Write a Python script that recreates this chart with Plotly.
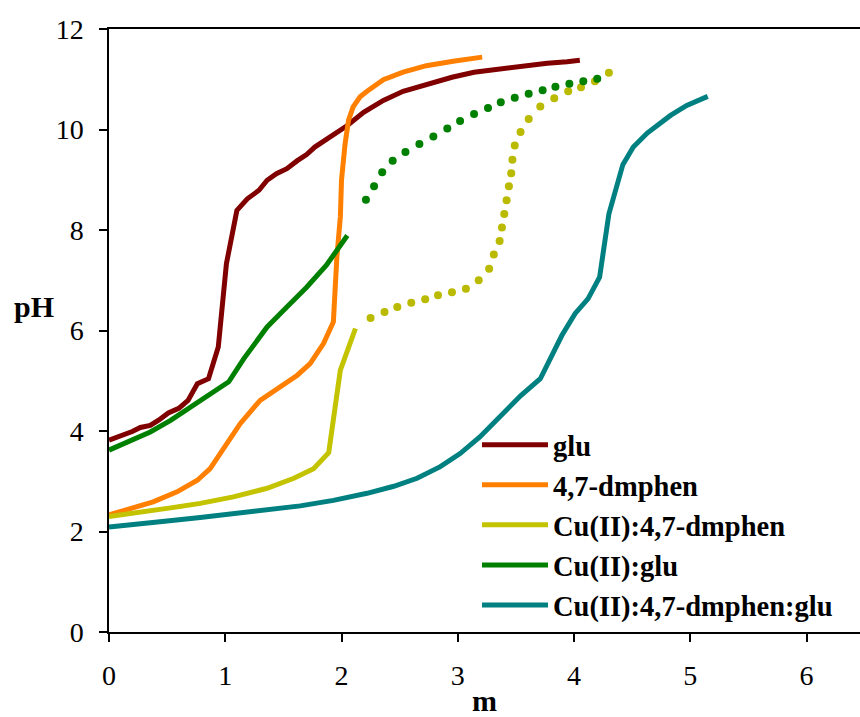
import plotly.graph_objects as go

# ---- data ----
glu_x = [0, 0.1, 0.2, 0.27, 0.355, 0.43, 0.51, 0.60, 0.68, 0.76, 0.856, 0.94, 1.01, 1.10, 1.19, 1.29,
         1.36, 1.44, 1.53, 1.62, 1.70, 1.77, 1.86, 1.96, 2.05, 2.19, 2.36, 2.53, 2.76, 2.95, 3.14,
         3.48, 3.77, 3.94, 4.05]
glu_y = [3.82, 3.90, 3.99, 4.07, 4.11, 4.22, 4.36, 4.45, 4.61, 4.94, 5.04, 5.67, 7.33, 8.39, 8.62, 8.79,
         8.99, 9.12, 9.22, 9.38, 9.50, 9.65, 9.78, 9.93, 10.08, 10.34, 10.58, 10.76, 10.92, 11.04, 11.14,
         11.25, 11.32, 11.35, 11.38]

dmphen_x = [0, 0.21, 0.38, 0.585, 0.76, 0.87, 1.01, 1.13, 1.30, 1.47, 1.62, 1.73, 1.845, 1.93, 1.96,
            1.99, 2.0, 2.03, 2.06, 2.10, 2.16, 2.22, 2.36, 2.53, 2.73, 2.96, 3.21]
dmphen_y = [2.33, 2.46, 2.59, 2.79, 3.02, 3.25, 3.75, 4.15, 4.61, 4.88, 5.11, 5.34, 5.74, 6.17, 7.46,
            8.26, 8.99, 9.70, 10.18, 10.45, 10.65, 10.76, 10.99, 11.14, 11.27, 11.36, 11.44]

cu_dmphen_x = [0, 0.21, 0.50, 0.785, 1.07, 1.36, 1.59, 1.76, 1.89, 1.99, 2.12]
cu_dmphen_y = [2.30, 2.36, 2.46, 2.56, 2.69, 2.86, 3.06, 3.25, 3.57, 5.21, 6.04]
cu_dmphen_dot_x = [2.25, 2.37, 2.48, 2.60, 2.72, 2.83, 2.95, 3.07, 3.18, 3.27, 3.31, 3.36, 3.38, 3.40,
                   3.42, 3.44, 3.46, 3.47, 3.49, 3.54, 3.61, 3.71, 3.83, 3.95, 4.06, 4.18, 4.30]
cu_dmphen_dot_y = [6.25, 6.37, 6.47, 6.55, 6.62, 6.70, 6.76, 6.83, 7.00, 7.23, 7.51, 7.78, 8.05, 8.32,
                   8.59, 8.87, 9.13, 9.40, 9.68, 9.95, 10.21, 10.46, 10.62, 10.76, 10.84, 10.96, 11.13]

cu_glu_x = [0, 0.097, 0.21, 0.355, 0.53, 0.64, 0.76, 0.90, 1.03, 1.16, 1.36, 1.53, 1.70, 1.87, 2.05]
cu_glu_y = [3.62, 3.72, 3.85, 3.98, 4.21, 4.38, 4.55, 4.78, 4.98, 5.44, 6.07, 6.47, 6.86, 7.30, 7.89]
cu_glu_dot_x = [2.21, 2.28, 2.35, 2.44, 2.55, 2.67, 2.79, 2.91, 3.02, 3.14, 3.26, 3.37, 3.49, 3.61,
                3.73, 3.84, 3.96, 4.08, 4.20]
cu_glu_dot_y = [8.60, 8.87, 9.15, 9.38, 9.55, 9.71, 9.86, 10.02, 10.17, 10.31, 10.43, 10.54, 10.63,
                10.71, 10.78, 10.85, 10.91, 10.96, 11.01]

ternary_x = [0, 0.21, 0.50, 0.785, 1.07, 1.36, 1.645, 1.93, 2.22, 2.45, 2.65, 2.85, 3.02, 3.19, 3.36,
             3.54, 3.71, 3.79, 3.895, 4.01, 4.12, 4.22, 4.30, 4.42, 4.51, 4.63, 4.83, 4.97, 5.15]
ternary_y = [2.09, 2.15, 2.21, 2.28, 2.36, 2.44, 2.51, 2.62, 2.76, 2.90, 3.06, 3.29, 3.55, 3.88, 4.28,
             4.70, 5.04, 5.41, 5.90, 6.34, 6.63, 7.06, 8.32, 9.30, 9.65, 9.93, 10.28, 10.48, 10.66]

x_ticks = [0, 1, 2, 3, 4, 5, 6]
y_ticks = [0, 2, 4, 6, 8, 10, 12]

FONT = "Liberation Serif, Times New Roman, serif"

fig = go.Figure()

def line(x, y, name, color):
    fig.add_trace(go.Scatter(x=x, y=y, mode="lines", name=name,
                             line=dict(color=color, width=5)))

def dots(x, y, color):
    fig.add_trace(go.Scatter(x=x, y=y, mode="markers", showlegend=False,
                             marker=dict(color=color, size=8, line=dict(width=0))))

line(glu_x, glu_y, "glu", "#800000")
line(dmphen_x, dmphen_y, "4,7-dmphen", "#FF8000")
line(cu_dmphen_x, cu_dmphen_y, "Cu(II):4,7-dmphen", "#C3C300")
dots(cu_dmphen_dot_x, cu_dmphen_dot_y, "#BABA00")
line(cu_glu_x, cu_glu_y, "Cu(II):glu", "#008000")
dots(cu_glu_dot_x, cu_glu_dot_y, "#008000")
line(ternary_x, ternary_y, "Cu(II):4,7-dmphen:glu", "#008080")

fig.update_layout(
    width=860, height=717,
    margin=dict(l=109, r=0, t=29, b=85),
    paper_bgcolor="white", plot_bgcolor="white",
    font=dict(family=FONT, size=28, color="black"),
    showlegend=True,
    legend=dict(x=0.49, y=0.352, xanchor="left", yanchor="top",
                bgcolor="rgba(0,0,0,0)", itemwidth=66, tracegroupgap=0,
                font=dict(family=FONT, size=28.5, color="black", weight="bold")),
    xaxis=dict(range=[0, 6.46], tickvals=x_ticks, ticks="outside", ticklen=8, tickwidth=1.5,
               tickcolor="black", showline=True, linecolor="black", linewidth=1.5, mirror=True,
               showgrid=False, zeroline=False, ticklabelstandoff=10,
               title=dict(text="m", standoff=5,
                          font=dict(family=FONT, size=30, color="black", weight="bold"))),
    yaxis=dict(range=[0, 12], tickvals=y_ticks, ticks="outside", ticklen=8, tickwidth=1.5,
               tickcolor="black", showline=True, linecolor="black", linewidth=1.5,
               showgrid=False, zeroline=False, ticklabelstandoff=10),
    annotations=[dict(text="pH", xref="paper", yref="paper", x=-0.1, y=0.539,
                      showarrow=False, xanchor="center", yanchor="middle",
                      font=dict(family=FONT, size=30, color="black", weight="bold"))],
)

fig.write_html("out.html", config={"displayModeBar": False},
               post_script="document.body.style.margin='0';document.body.style.overflow='hidden';")
